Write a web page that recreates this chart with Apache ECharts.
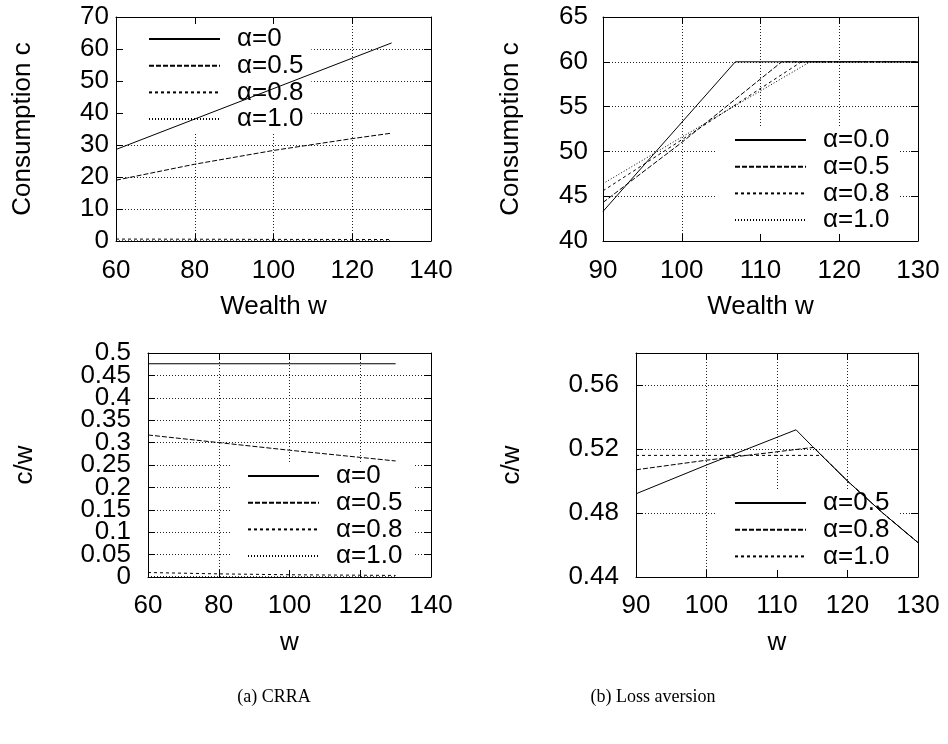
<!DOCTYPE html>
<html><head><meta charset="utf-8">
<script src="https://cdn.jsdelivr.net/npm/echarts@6/dist/echarts.min.js"></script>
<style>html,body{margin:0;padding:0;background:#fff}#c{width:948px;height:744px}</style>
</head><body><div id="c"></div><script>
// ---- data ----
// (a) CRRA, consumption c vs wealth w
const crraC0  = [[60,28.6],[130,61.9]];
const crraC05 = [[60,19.0],[80,24.0],[100,28.3],[120,32.0],[130,33.7]];
const crraC08 = [[60,0.6],[80,0.56],[100,0.5],[120,0.48],[130,0.46]];
const crraC10 = [[60,0.05],[130,0.04]];
// (b) Loss aversion, consumption c vs wealth w
const lossC00 = [[90,43.3],[106.8,60],[130,60]];
const lossC05 = [[90,44.3],[100,51.0],[112.7,60],[130,60]];
const lossC08 = [[90,45.6],[100,51.3],[115.2,60],[130,60]];
const lossC10 = [[90,46.4],[100,51.6],[116.3,60],[130,60]];
// (a) CRRA, c/w vs w
const crraR0  = [[60,0.476],[130,0.476]];
const crraR05 = [[60,0.317],[80,0.300],[100,0.283],[120,0.267],[130,0.259]];
const crraR08 = [[60,0.010],[80,0.007],[100,0.005],[120,0.004],[130,0.0035]];
const crraR10 = [[60,0.0008],[130,0.0003]];
// (b) Loss aversion, c/w vs w
const lossR05 = [[90,0.492],[100,0.510],[112.7,0.532],[115,0.5217],[120,0.5],[125,0.48],[130,0.4615]];
const lossR08 = [[90,0.507],[100,0.513],[115.2,0.521],[120,0.5],[125,0.48],[130,0.4615]];
const lossR10 = [[90,0.516],[116.3,0.516],[120,0.5],[125,0.48],[130,0.4615]];
// legend labels
const legA = ['α=0','α=0.5','α=0.8','α=1.0'];
const legB = ['α=0.0','α=0.5','α=0.8','α=1.0'];
const legC = ['α=0','α=0.5','α=0.8','α=1.0'];
const legD = ['α=0.5','α=0.8','α=1.0'];
const captions = ['(a) CRRA','(b) Loss aversion'];
// axis ranges [min,max,interval]
const xrA = [60,140,20], yrA = [0,70,10];
const xrB = [90,130,10], yrB = [40,65,5];
const xrC = [60,140,20], yrC = [0,0.5,0.05];
const xrD = [90,130,10], yrD = [0.44,0.58,0.04];

// ---- styling ----
const FONT = '"Liberation Sans", Arial, Helvetica, sans-serif';
const SERIF = '"Liberation Serif", "Times New Roman", serif';
const DASH = ['solid',[5,2],[3,3],[1,2]];
const BLACK = '#000';
const fmt = v => String(+Number(v).toFixed(2));

const grids = [
  {left:116, top:17, width:315, height:224},
  {left:603, top:17, width:315, height:224},
  {left:148, top:353, width:283, height:224},
  {left:636, top:353, width:282, height:224}
];
// helper grid for the odd labels of the crowded c/w axis (same scale, bottom at 0.05)
const cTop = 353, cH = 224;
grids.push({left:148, top:cTop, width:283, height:cH * (yrC[1] - (yrC[0] + yrC[2])) / (yrC[1] - yrC[0])});

const xAxis = [], yAxis = [];
const txt = {fontSize:26, fontFamily:FONT, color:BLACK};
function addAxes(gi, xr, yr, o){
  const xb = {gridIndex:gi, type:'value', min:xr[0], max:xr[1], interval:xr[2]};
  const yb = {gridIndex:gi, type:'value', min:yr[0], max:yr[1], interval:yr[2]};
  const line = {show:true, onZero:false, lineStyle:{color:BLACK, width:1}};
  const tick = {show:true, inside:true, length:7, lineStyle:{color:BLACK, width:1}};
  const split = {show:true, lineStyle:{color:'#222', width:1, type:[1,2]}};
  const yl = o.noYLabels ? {show:false} :
    Object.assign({margin:o.ym, hideOverlap:false, showMinLabel:true, showMaxLabel:o.showMax !== false, formatter:fmt}, txt);
  xAxis.push(Object.assign({}, xb, {position:'bottom', z:3, axisLine:line, axisTick:tick,
    axisLabel:Object.assign({margin:o.xm, hideOverlap:false, showMinLabel:true, showMaxLabel:true}, txt), splitLine:{show:false},
    name:o.xn, nameLocation:'middle', nameGap:o.xg, nameTextStyle:txt}));
  xAxis.push(Object.assign({}, xb, {position:'top', z:3, axisLine:line, axisTick:tick,
    axisLabel:{show:false}, splitLine:{show:false}}));
  xAxis.push(Object.assign({}, xb, {position:'bottom', z:0, axisLine:{show:false, onZero:false},
    axisTick:{show:false}, axisLabel:{show:false}, splitLine:split}));
  yAxis.push(Object.assign({}, yb, {position:'left', z:3, axisLine:line, axisTick:tick,
    axisLabel:yl, splitLine:{show:false},
    name:o.yn, nameLocation:'middle', nameRotate:90, nameGap:o.yg, nameTextStyle:txt}));
  yAxis.push(Object.assign({}, yb, {position:'right', z:3, axisLine:line, axisTick:tick,
    axisLabel:{show:false}, splitLine:{show:false}}));
  yAxis.push(Object.assign({}, yb, {position:'left', z:0, axisLine:{show:false, onZero:false},
    axisTick:{show:false}, axisLabel:{show:false}, splitLine:split}));
}
addAxes(0, xrA, yrA, {xn:'Wealth w', xg:53, xm:17, yn:'Consumption c', yg:80, ym:7});
addAxes(1, xrB, yrB, {xn:'Wealth w', xg:53, xm:17, yn:'Consumption c', yg:79, ym:15});
addAxes(2, xrC, yrC, {xn:'w', xg:53, xm:16, yn:'c/w', yg:110, ym:17, noYLabels:true});
addAxes(3, xrD, yrD, {xn:'w', xg:53, xm:16, yn:'c/w', yg:111, ym:17, showMax:false});
// c/w (CRRA) tick labels split over two label-only axes so none are dropped
const labelOnly = {type:'value', position:'left', z:3, axisLine:{show:false, onZero:false}, axisTick:{show:false},
  splitLine:{show:false}};
yAxis.push(Object.assign({}, labelOnly, {gridIndex:2, min:yrC[0], max:yrC[1], interval:yrC[2]*2,
  axisLabel:Object.assign({margin:17, hideOverlap:false, showMinLabel:true, showMaxLabel:true, formatter:fmt}, txt)}));
yAxis.push(Object.assign({}, labelOnly, {gridIndex:4, min:yrC[0] + yrC[2], max:yrC[1], interval:yrC[2]*2,
  axisLabel:Object.assign({margin:17, hideOverlap:false, showMinLabel:true, showMaxLabel:false, formatter:fmt}, txt)}));
xAxis.push({type:'value', gridIndex:4, min:xrC[0], max:xrC[1], show:false});

const series = [];
function addSeries(gi, key, names, datas){
  names.forEach((n, i) => {
    series.push({type:'line', name:key + '|' + n, xAxisIndex:gi*3, yAxisIndex:gi*3,
      data:datas[i], symbol:'none', showSymbol:false, z:2, animation:false, silent:true,
      itemStyle:{color:BLACK},
      lineStyle:{color:BLACK, width:1, type:DASH[i]}});
  });
}
addSeries(0, 'A', legA, [crraC0, crraC05, crraC08, crraC10]);
addSeries(1, 'B', legB, [lossC00, lossC05, lossC08, lossC10]);
addSeries(2, 'C', legC, [crraR0, crraR05, crraR08, crraR10]);
addSeries(3, 'D', legD, [lossR05, lossR08, lossR10]);

function mkLegend(key, names, left, top, padding){
  return {orient:'vertical', left:left, top:top, padding:padding, itemWidth:71, itemHeight:26,
    itemGap:0.7, backgroundColor:'#fff', z:1, selectedMode:false, align:'left',
    itemStyle:{color:'rgba(0,0,0,0)', borderColor:'rgba(0,0,0,0)', borderWidth:0, opacity:0},
    data:names.map(n => key + '|' + n),
    formatter: function(name){ return name.split('|')[1]; },
    textStyle:{fontSize:26, lineHeight:26, fontFamily:FONT, color:BLACK, padding:[0,0,0,12]}};
}
const legend = [
  mkLegend('A', legA, 116, 17, [9,8,1,32]),
  mkLegend('B', legB, 717, 127, [0,9,3,17]),
  mkLegend('C', legC, 230, 463, [0,12,1,17]),
  mkLegend('D', legD, 717, 490, [0,9,1,17])
];

const graphic = [
  {type:'text', x:274, y:697, style:{text:captions[0], fontSize:18, fontFamily:SERIF, fill:BLACK, align:'center', verticalAlign:'middle'}},
  {type:'text', x:653, y:697, style:{text:captions[1], fontSize:18, fontFamily:SERIF, fill:BLACK, align:'center', verticalAlign:'middle'}}
];

const chart = echarts.init(document.getElementById('c'), null, {renderer:'canvas'});
chart.setOption({animation:false, backgroundColor:'#fff', grid:grids, xAxis:xAxis, yAxis:yAxis,
  series:series, legend:legend, graphic:graphic});
</script></body></html>
